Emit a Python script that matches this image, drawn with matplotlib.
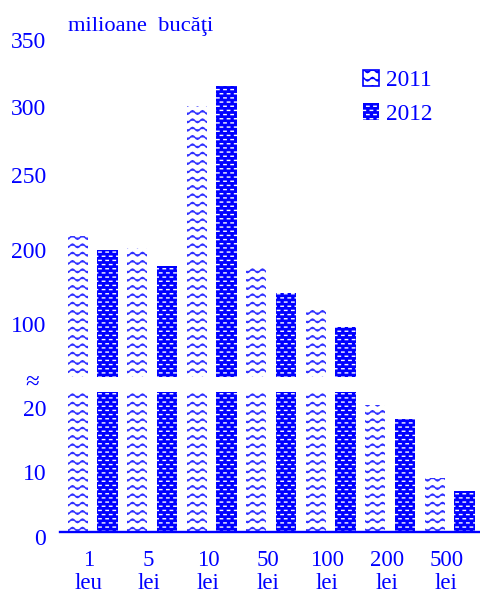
import warnings
import numpy as np
import matplotlib
matplotlib.use("Agg")
import matplotlib.pyplot as plt
import matplotlib.hatch as mhatch
from matplotlib.path import Path
from matplotlib.patches import Patch
from matplotlib.transforms import ScaledTranslation

warnings.filterwarnings("ignore")

# ---- data -------------------------------------------------------------
categories = ["1\nleu", "5\nlei", "10\nlei", "50\nlei", "100\nlei", "200\nlei", "500\nlei"]
series_2011 = [206, 196, 297, 172, 116, 19.7, 8.4]
series_2012 = [193, 172, 312, 135, 89, 17.5, 6.4]
upper_ticks = [100, 200, 250, 300, 350]
lower_ticks = [0, 10, 20]
legend_labels = ["2011", "2012"]
unit_label = "milioane  bucăţi"

BLUE = "#0000ff"
WAVE_BLUE = "#3030ff"

plt.rcParams["font.family"] = ["Liberation Serif", "DejaVu Serif"]
plt.rcParams["hatch.linewidth"] = 1.0


# ---- custom fill textures ---------------------------------------------
class WaveHatch(mhatch.HatchPatternBase):
    """Rows of small sine waves, selected with '~'."""
    rows, periods, samples, amp = 12, 10, 80, 0.018

    def __init__(self, hatch, density):
        self.n = self.rows if (hatch and "~" in hatch) else 0
        self.num_vertices = self.n * (self.samples + 1)

    def set_vertices_and_codes(self, vertices, codes):
        xs = np.linspace(0.0, 1.0, self.samples + 1)
        for i in range(self.n):
            ys = (i + 0.5) / self.n + self.amp * np.sin(2 * np.pi * self.periods * xs)
            sl = slice(i * (self.samples + 1), (i + 1) * (self.samples + 1))
            vertices[sl, 0] = xs
            vertices[sl, 1] = ys
            codes[sl] = Path.LINETO
            codes[sl.start] = Path.MOVETO


class BrickDashHatch(mhatch.HatchPatternBase):
    """Staggered short horizontal dashes, selected with '='."""
    rows, cols, length = 24, 14, 0.024

    def __init__(self, hatch, density):
        self.segs = self._segments() if (hatch and "=" in hatch) else []
        self.num_vertices = 2 * len(self.segs)

    def _segments(self):
        segs = []
        for i in range(self.rows):
            y = (i + 0.5) / self.rows
            shift = 0.5 * (i % 2)
            for j in range(-1, self.cols + 1):
                c = (j + 0.5 + shift) / self.cols
                x0 = max(c - self.length / 2, 0.0)
                x1 = min(c + self.length / 2, 1.0)
                if x1 - x0 > 1e-4:
                    segs.append((x0, x1, y))
        return segs

    def set_vertices_and_codes(self, vertices, codes):
        for k, (x0, x1, y) in enumerate(self.segs):
            vertices[2 * k] = (x0, y)
            vertices[2 * k + 1] = (x1, y)
            codes[2 * k] = Path.MOVETO
            codes[2 * k + 1] = Path.LINETO


mhatch._hatch_types.extend([WaveHatch, BrickDashHatch])

# ---- figure layout ----------------------------------------------------
W, H = 480, 593
fig = plt.figure(figsize=(W / 100, H / 100), dpi=100)


def px_rect(left, top, right, bottom):
    return [left / W, 1 - bottom / H, (right - left) / W, (bottom - top) / H]


ax_hi = fig.add_axes(px_rect(60, 28, 480, 377))
ax_lo = fig.add_axes(px_rect(60, 392, 480, 532))

# piecewise scale of the upper panel (uneven spacing between its ticks)
brk_vals = [0, 100, 200, 250, 300, 350, 400]
brk_pos = [139, 213, 287, 362, 430, 497, 564]


def fwd(v):
    return np.interp(v, brk_vals, brk_pos)


def inv(p):
    return np.interp(p, brk_pos, brk_vals)


x = np.arange(len(categories))
width, off = 0.34, 0.25
for ax in (ax_hi, ax_lo):
    ax.bar(x - off, series_2011, width, facecolor="white", edgecolor=WAVE_BLUE,
           hatch="~", linewidth=0)
    ax.bar(x + off, series_2012, width, facecolor=BLUE, edgecolor="white",
           hatch="=", linewidth=0)
    ax.set_xlim(-0.546, 6.51)
    for s in ax.spines.values():
        s.set_visible(False)
    ax.tick_params(axis="both", length=0, labelsize=17, labelcolor=BLUE)
    ax.tick_params(axis="y", pad=10)
    ax.set_facecolor("none")

ax_hi.set_yscale("function", functions=(fwd, inv))
ax_hi.set_ylim(21.6, 355.2)
ax_hi.set_yticks(upper_ticks, [str(t) for t in upper_ticks])
ax_hi.set_xticks([])

ax_lo.set_ylim(0, 21.7)
ax_lo.set_yticks(lower_ticks, [str(t) for t in lower_ticks])
ax_lo.set_xticks(x, categories)
ax_lo.tick_params(axis="x", pad=13, labelsize=16.5)
ax_lo.spines["bottom"].set_visible(True)
ax_lo.spines["bottom"].set_color(BLUE)
ax_lo.spines["bottom"].set_linewidth(1.7)

for ax in (ax_hi, ax_lo):
    for lbl in ax.get_yticklabels():
        lbl.set_transform(lbl.get_transform()
                          + ScaledTranslation(0, -0.05, fig.dpi_scale_trans))
for lbl in ax_lo.get_xticklabels():
    lbl.set_linespacing(1.15)
    lbl.set_transform(lbl.get_transform()
                      + ScaledTranslation(-0.035, 0, fig.dpi_scale_trans))

fig.text(68 / W, 1 - 27 / H, unit_label, ha="left", va="center",
         fontsize=16.2, color=BLUE)
fig.text(32.5 / W, 1 - 383 / H, "≈", ha="center", va="center",
         fontsize=18, color=BLUE)

handles = [
    Patch(facecolor="white", edgecolor=BLUE, hatch="~", linewidth=1.2),
    Patch(facecolor=BLUE, edgecolor="white", hatch="=", linewidth=0),
]
ax_hi.legend(handles, legend_labels, loc="upper left",
             bbox_to_anchor=(363 / W, 1 - 70 / H), bbox_transform=fig.transFigure,
             frameon=False, handlelength=0.68, handleheight=0.7,
             handletextpad=0.3, labelspacing=0.52, borderpad=0,
             borderaxespad=0, fontsize=16.8, labelcolor=BLUE)

fig.savefig("out.png", dpi=100)
